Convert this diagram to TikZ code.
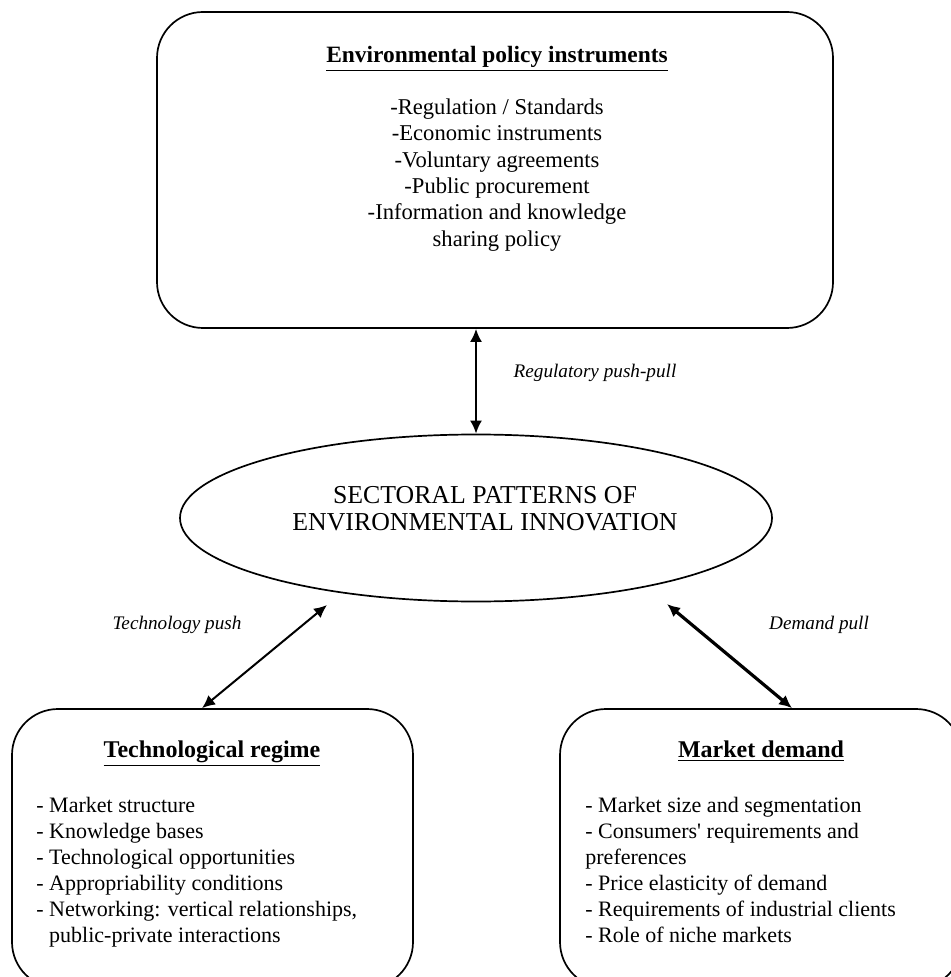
\documentclass[tikz,border=0pt]{standalone}
\usepackage{fontspec}
\setmainfont{Liberation Serif}
\usetikzlibrary{arrows.meta,shapes.geometric}
\begin{document}
\begin{tikzpicture}[x=0.5pt,y=-0.5pt,
  mybox/.style={draw,line width=0.85pt,rounded corners=23pt,inner sep=0pt},
  mytitle/.style={font=\fontsize{11.7}{14}\selectfont\bfseries,anchor=base},
  mylist/.style={font=\fontsize{11}{13}\selectfont,inner sep=0pt},
  mylabel/.style={font=\fontsize{9.6}{12}\selectfont\itshape},
  myarrow/.style={{Latex[length=6.5pt,width=6pt]}-{Latex[length=6.5pt,width=6pt]},line width=1pt}]
\useasboundingbox (0,0) rectangle (950,977);
% policy instruments
\node [mybox,minimum width=338pt,minimum height=158pt] (policy) at (495,170) {};
\node [mytitle] (policytitle) at (497,63) {\underline{Environmental policy instruments}};
\node [mylist,align=center,font=\fontsize{11.3}{13.2}\selectfont] (policylist) at (497,175) {-Regulation / Standards\\-Economic instruments\\-Voluntary agreements\\-Public procurement\\-Information and knowledge\\sharing policy};
% central ellipse
\node [ellipse,draw,line width=0.85pt,minimum width=296pt,minimum height=83.5pt] (sectoral) at (476,518) {};
\node [align=center,font=\fontsize{12.9}{13.5}\selectfont] (sectoraltext) at (485,509) {SECTORAL PATTERNS OF\\ENVIRONMENTAL INNOVATION};
% lower boxes
\node [mybox,minimum width=200.5pt,minimum height=139.5pt] (techbox) at (212.5,848.5) {};
\node [mytitle,font=\fontsize{12}{14}\selectfont\bfseries] (techtitle) at (212,757) {\underline{Technological regime}};
\node [mylist,align=left,anchor=west] (techlist) at (36,872) {- Market structure\\- Knowledge bases\\- Technological opportunities\\- Appropriability conditions\\- Networking: vertical relationships,\\\hphantom{-~}public-private interactions};
\node [mybox,minimum width=201pt,minimum height=139.5pt] (marketbox) at (761,848.5) {};
\node [mytitle,font=\fontsize{12}{14}\selectfont\bfseries] (markettitle) at (761,757) {\underline{Market demand}};
\node [mylist,align=left,anchor=west] (marketlist) at (585,870) {- Market size and segmentation\\- Consumers\textquotesingle\ requirements and\\preferences\\- Price elasticity of demand\\- Requirements of industrial clients\\- Role of niche markets};
% arrows
\coordinate (techtip) at (327,605);
\coordinate (markettip) at (667,604);
\draw [myarrow] (sectoral.north |- policy.south) -- (sectoral.north);
\draw [myarrow] (techtip) -- ([xshift=-5.25pt]techbox.north);
\draw [myarrow,line width=1.6pt] (markettip) -- ([xshift=15.5pt]marketbox.north);
\foreach \txt/\pos/\nm in {Regulatory push-pull/{(595,373)}/reglabel,Technology push/{(177,625)}/techlabel,Demand pull/{(819,625)}/marketlabel}
  { \node [mylabel] (\nm) at \pos {\txt}; }
\end{tikzpicture}
\end{document}
